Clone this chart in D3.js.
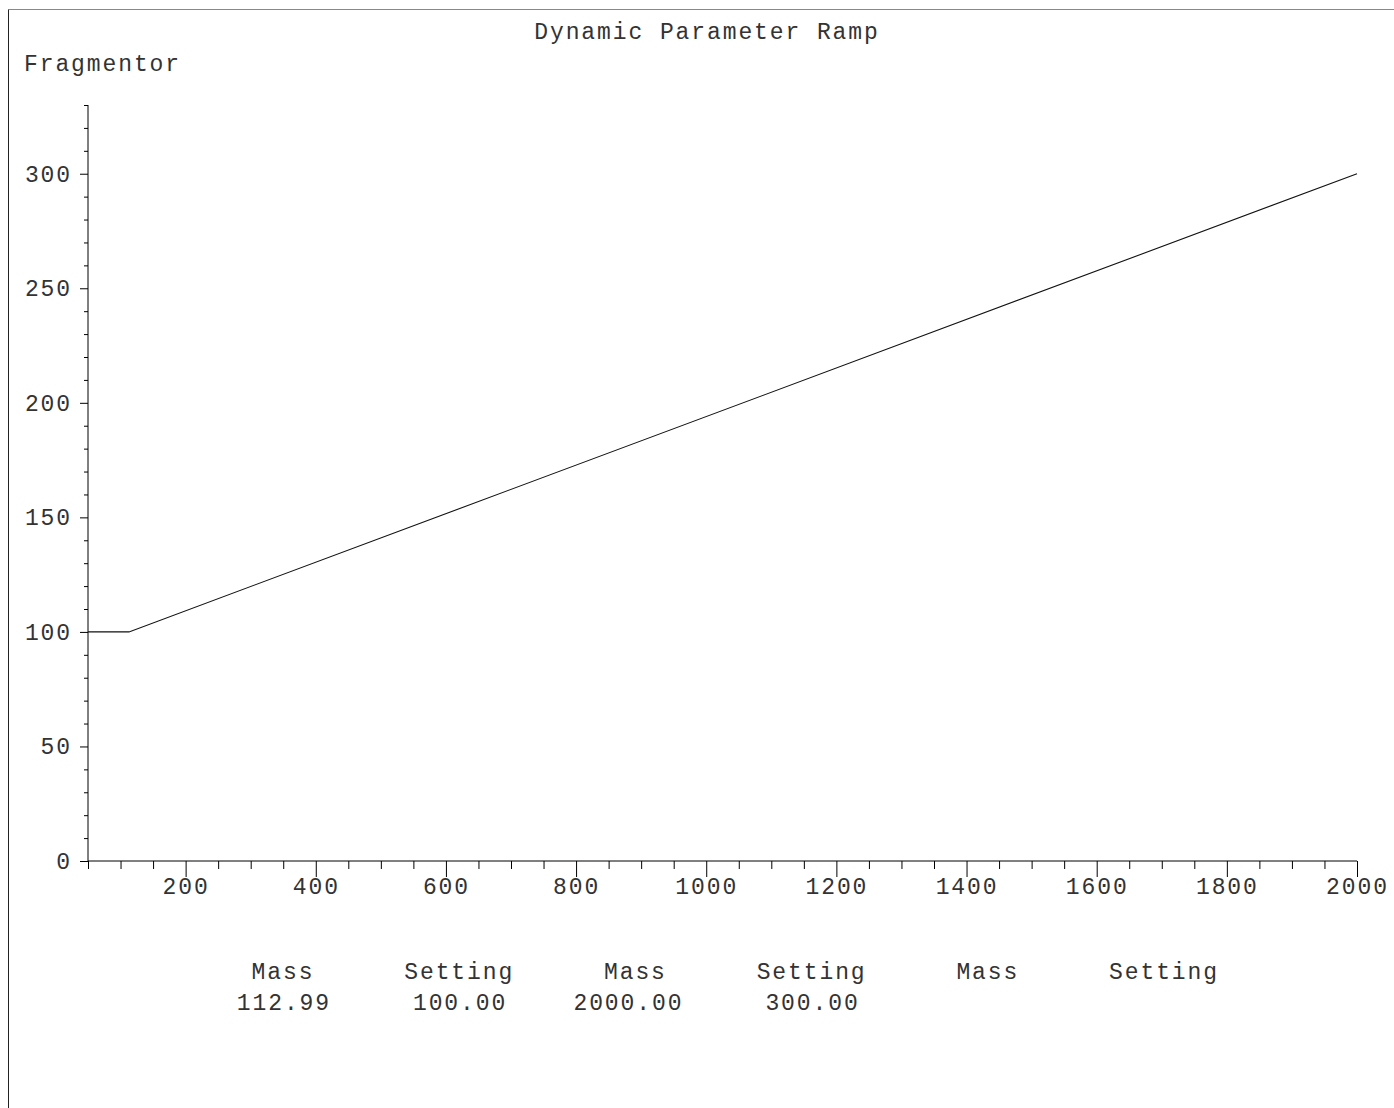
<!DOCTYPE html>
<html><head><meta charset="utf-8">
<script src="https://cdn.jsdelivr.net/npm/d3@7"></script>
<style>
html,body{margin:0;padding:0;background:#fff;}
text{font-family:"Liberation Mono","DejaVu Sans Mono",monospace;font-size:23px;letter-spacing:1.9px;fill:#333;}
</style></head>
<body>
<svg id="c" width="1394" height="1108"></svg>
<script>
const title = "Dynamic Parameter Ramp";
const yLabel = "Fragmentor";
const rampMass = [50, 112.99, 2000];
const rampSetting = [100, 100, 300];
const xMajorTicks = [200, 400, 600, 800, 1000, 1200, 1400, 1600, 1800, 2000];
const yMajorTicks = [0, 50, 100, 150, 200, 250, 300];
const tableHeaders = ["Mass", "Setting", "Mass", "Setting", "Mass", "Setting"];
const tableValues = ["112.99", "100.00", "2000.00", "300.00", "", ""];

const svg = d3.select("#c");
svg.append("line").attr("x1", 8.5).attr("y1", 9.5).attr("x2", 1394).attr("y2", 9.5).attr("stroke", "#888");
svg.append("line").attr("x1", 8.5).attr("y1", 9.5).attr("x2", 8.5).attr("y2", 1108).attr("stroke", "#222");

const x = d3.scaleLinear().domain([50, 2000]).range([88, 1357]);
const y = d3.scaleLinear().domain([0, 330]).range([861, 105]);

svg.append("text").attr("x", 707).attr("y", 39).attr("text-anchor", "middle").text(title);
svg.append("text").attr("x", 24).attr("y", 71).text(yLabel);

// y axis
const yMinor = d3.range(0, 331, 10).filter(v => !yMajorTicks.includes(v));
const gy = svg.append("g").attr("transform", "translate(88,0)");
gy.call(d3.axisLeft(y).tickValues(yMinor).tickSize(4).tickFormat(""));
const gy2 = svg.append("g").attr("transform", "translate(88,0)");
gy2.call(d3.axisLeft(y).tickValues(yMajorTicks).tickSize(8).tickPadding(8).tickFormat(d3.format("d")));
[gy, gy2].forEach(g => {
  g.select(".domain").attr("stroke", "#000");
  g.selectAll(".tick line").attr("stroke", "#000");
  g.selectAll("text").attr("font-family", null).attr("font-size", null).attr("fill", "#333");
});
gy.select(".domain").attr("d", `M0,${y(330)}V${y(0)}`);
gy2.select(".domain").remove();

// x axis
const xMinor = d3.range(50, 2001, 50).filter(v => !xMajorTicks.includes(v));
const gx = svg.append("g").attr("transform", "translate(0,861)");
gx.call(d3.axisBottom(x).tickValues(xMinor).tickSize(8).tickFormat(""));
const gx2 = svg.append("g").attr("transform", "translate(0,861)");
gx2.call(d3.axisBottom(x).tickValues(xMajorTicks).tickSize(16).tickPadding(1).tickFormat(d3.format("d")));
[gx, gx2].forEach(g => {
  g.select(".domain").attr("stroke", "#000");
  g.selectAll(".tick line").attr("stroke", "#000");
  g.selectAll("text").attr("font-family", null).attr("font-size", null).attr("fill", "#333");
});
gx.select(".domain").attr("d", `M${x(50)},0H${x(2000)}`);
gx2.select(".domain").remove();

// ramp line
const line = d3.line().x(d => x(d[0])).y(d => y(d[1]));
svg.append("path").datum(d3.zip(rampMass, rampSetting))
  .attr("d", line).attr("fill", "none").attr("stroke", "#111").attr("stroke-width", 1.1);

// table
const col = d3.scalePoint().domain(d3.range(tableHeaders.length)).range([282, 1163]);
svg.selectAll(".hdr").data(tableHeaders).join("text")
  .attr("x", (d, i) => col(i) + 1).attr("y", 979).attr("text-anchor", "middle").text(d => d);
svg.selectAll(".val").data(tableValues).join("text")
  .attr("x", (d, i) => col(i) + 49).attr("y", 1010).attr("text-anchor", "end").text(d => d);
</script>
</body></html>
